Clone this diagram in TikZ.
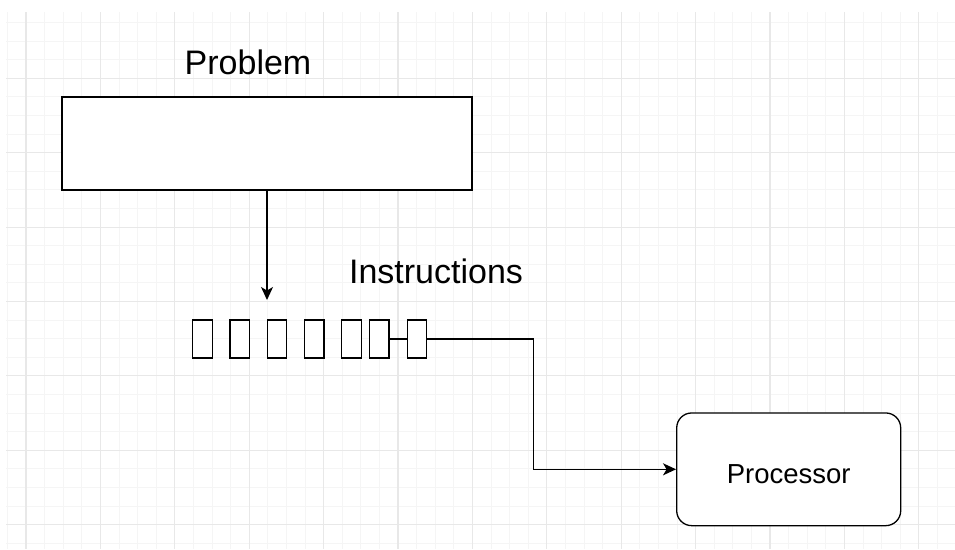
\documentclass[tikz,border=0pt]{standalone}
\usepackage{fontspec}
\setmainfont{Liberation Sans}
\usepackage{tikz}
\usetikzlibrary{calc,arrows.meta}

\begin{document}
\begin{tikzpicture}[x=1pt,y=-1pt,
        box/.style={draw,line width=1.3pt,fill=white,inner sep=0pt},
        cell/.style={box,minimum width=19.5pt,minimum height=38pt},
        link/.style={line width=1.3pt,-{Stealth[length=13pt,width=12pt,inset=3.5pt]}},
        big/.style={font=\fontsize{34}{40}\selectfont}]
    \useasboundingbox (0,0) rectangle (955,549);

    % Background grid:
    % Light lines every small step, a bit darker every fourth line
    \begin{scope}
        \clip (6,12) rectangle (955,549);
        \foreach \x in {7.4,26.0,...,960}{%
            \draw[color=gray!8, line width=1pt] (\x,12) -- (\x,549);
        }
        \foreach \y in {22.5,41.1,...,560}{%
            \draw[color=gray!8, line width=1pt] (6,\y) -- (955,\y);
        }
        \foreach \x in {26,100.4,...,960}{%
            \draw[color=gray!18, line width=1.1pt] (\x,12) -- (\x,549);
        }
        \foreach \y in {78.3,152.7,...,560}{%
            \draw[color=gray!18, line width=1.1pt] (6,\y) -- (955,\y);
        }
    \end{scope}

    % Problem box and its title
    \node[box,minimum width=410pt,minimum height=93pt] (problem) at (267,143.5) {};
    \node[big,anchor=base] (problemlabel) at (248,74) {Problem};

    % The row of instructions:
    \foreach \n/\x in {1/202.5,2/239.7,3/277,4/314.3,5/351.5,6/379.2,7/417}{%
        \node[cell] (q\n) at (\x,339) {};
    }
    \node[big,anchor=base] (instrlabel) at (436,283) {Instructions};

    % Processor
    \node[box,rounded corners=15pt,minimum width=224pt,minimum height=112.7pt,
        text height=28pt,text depth=0pt,font=\fontsize{27.5}{32}\selectfont] (processor) at (788.7,469.3) {Processor};

    % Connectors
    \coordinate (intop) at (267,300);
    \draw[link] (problem) -- (intop);
    \draw[line width=1.3pt] (q6) -- (q7);
    \coordinate (bend) at (533.7,339);
    \draw[link] (q7.east) -- (bend) |- (processor.west);
\end{tikzpicture}
\end{document}
